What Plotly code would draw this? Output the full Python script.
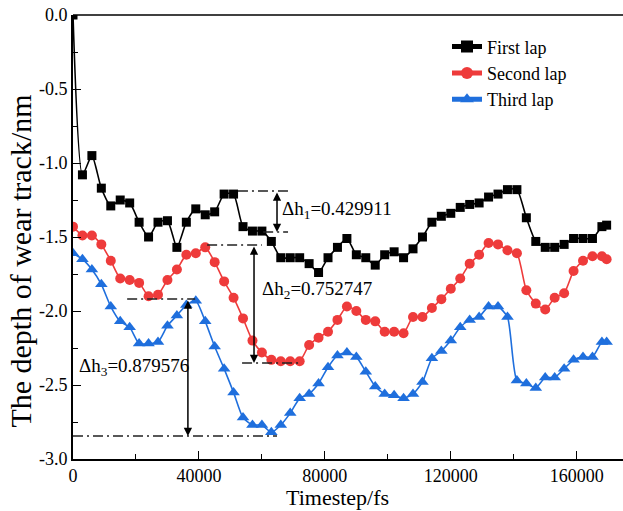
import plotly.graph_objects as go

# ---- data ----
timestep = [i * 3000 for i in range(57)] + [169500]

first_lap = [0.00, -1.08, -0.95, -1.17, -1.29, -1.25, -1.27, -1.40, -1.50, -1.40,
             -1.39, -1.57, -1.40, -1.31, -1.35, -1.33, -1.21, -1.21, -1.43, -1.46,
             -1.46, -1.53, -1.64, -1.64, -1.64, -1.68, -1.74, -1.64, -1.57, -1.51,
             -1.62, -1.64, -1.69, -1.62, -1.60, -1.64, -1.58, -1.50, -1.40, -1.36,
             -1.34, -1.30, -1.28, -1.27, -1.23, -1.21, -1.18, -1.18, -1.37, -1.53,
             -1.57, -1.57, -1.55, -1.51, -1.51, -1.51, -1.43, -1.42]

second_lap = [-1.43, -1.49, -1.49, -1.55, -1.66, -1.78, -1.79, -1.81, -1.90, -1.89,
              -1.79, -1.72, -1.62, -1.61, -1.57, -1.67, -1.80, -1.91, -2.05, -2.20,
              -2.28, -2.33, -2.34, -2.34, -2.34, -2.23, -2.18, -2.14, -2.06, -1.97,
              -2.00, -2.06, -2.07, -2.14, -2.14, -2.15, -2.04, -2.04, -1.98, -1.92,
              -1.85, -1.78, -1.68, -1.62, -1.54, -1.55, -1.59, -1.61, -1.86, -1.95,
              -1.99, -1.91, -1.88, -1.73, -1.66, -1.63, -1.63, -1.65]

third_lap = [-1.61, -1.65, -1.72, -1.82, -1.97, -2.07, -2.11, -2.22, -2.22, -2.21,
             -2.10, -2.03, -1.96, -1.93, -2.07, -2.24, -2.39, -2.55, -2.72, -2.77,
             -2.77, -2.82, -2.77, -2.69, -2.59, -2.56, -2.49, -2.38, -2.30, -2.28,
             -2.31, -2.41, -2.51, -2.56, -2.57, -2.59, -2.56, -2.48, -2.32, -2.27,
             -2.20, -2.11, -2.06, -2.04, -1.97, -1.97, -2.04, -2.47, -2.49, -2.52,
             -2.45, -2.45, -2.39, -2.33, -2.31, -2.31, -2.21, -2.21]

series_names = ["First lap", "Second lap", "Third lap"]

x_tickvals = [0, 40000, 80000, 120000, 160000]
x_ticktext = ["0", "40000", "80000", "120000", "160000"]
y_tickvals = [0.0, -0.5, -1.0, -1.5, -2.0, -2.5, -3.0]
y_ticktext = ["0.0", "-0.5", "-1.0", "-1.5", "-2.0", "-2.5", "-3.0"]

# Height-difference annotations
dh_labels = ["Δh<sub>1</sub>=0.429911", "Δh<sub>2</sub>=0.752747", "Δh<sub>3</sub>=0.879576"]
dh_top = [-1.189, -1.554, -1.919]
dh_bottom = [-1.466, -2.351, -2.845]
dh_arrow_x = [64800, 57500, 36500]
dh_top_x = [(52400, 68300), (42600, 60000), (17200, 38800)]
dh_bot_x = [(60400, 68300), (53700, 72700), (0, 64800)]
dh_text_pos = [(65800, -1.32), (59400, -1.86), (1300, -2.38)]

FONT = "Liberation Serif"

colors = ["#000000", "#EE3B3B", "#1F6FDD"]
symbols = ["square", "circle", "triangle-up"]
msizes = [9, 10, 11]

fig = go.Figure()
for name, ys, c, s, ms in zip(series_names, [first_lap, second_lap, third_lap],
                              colors, symbols, msizes):
    fig.add_trace(go.Scatter(
        x=timestep, y=ys, name=name, mode="lines+markers",
        line=dict(color=c, width=1.6, shape="spline", smoothing=0.6),
        marker=dict(symbol=s, size=ms, color=c, line=dict(width=0)),
    ))

shapes = []
annotations = []
dash = "10px,4px,2px,4px"
for i in range(3):
    shapes.append(dict(type="line", xref="x", yref="y",
                       x0=dh_top_x[i][0], x1=dh_top_x[i][1], y0=dh_top[i], y1=dh_top[i],
                       line=dict(color="#222222", width=1.5, dash=dash)))
    shapes.append(dict(type="line", xref="x", yref="y",
                       x0=dh_bot_x[i][0], x1=dh_bot_x[i][1], y0=dh_bottom[i], y1=dh_bottom[i],
                       line=dict(color="#222222", width=1.5, dash=dash)))
    annotations.append(dict(x=dh_arrow_x[i], y=dh_bottom[i], ax=dh_arrow_x[i], ay=dh_top[i],
                            xref="x", yref="y", axref="x", ayref="y", text="",
                            showarrow=True, arrowhead=2, arrowside="end+start",
                            arrowsize=1.1, arrowwidth=1.5, arrowcolor="#000000",
                            standoff=0, startstandoff=0))
    annotations.append(dict(x=dh_text_pos[i][0], y=dh_text_pos[i][1], xref="x", yref="y",
                            text=dh_labels[i], showarrow=False, xanchor="left",
                            yanchor="middle", font=dict(family=FONT, size=19, color="#000")))

# top border line
shapes.append(dict(type="line", xref="paper", yref="paper", x0=0, x1=1, y0=1, y1=1,
                   line=dict(color="#000000", width=1.6)))

# axis titles
annotations.append(dict(x=0.48, y=-0.086, xref="paper", yref="paper", text="Timestep/fs",
                        showarrow=False, xanchor="center", yanchor="middle",
                        font=dict(family=FONT, size=22, color="#000")))
annotations.append(dict(x=-0.096, y=0.445, xref="paper", yref="paper",
                        text="The depth of wear track/nm", textangle=-90,
                        showarrow=False, xanchor="center", yanchor="middle",
                        font=dict(family=FONT, size=30, color="#000")))

fig.update_layout(
    width=623, height=511,
    margin=dict(l=73, r=0, t=15, b=52),
    paper_bgcolor="white", plot_bgcolor="white",
    font=dict(family=FONT, size=18, color="#000"),
    showlegend=True,
    legend=dict(x=0.68, y=0.97, xanchor="left", yanchor="top",
                bgcolor="rgba(0,0,0,0)", font=dict(family=FONT, size=18, color="#000"),
                tracegroupgap=0, itemsizing="constant"),
    shapes=shapes, annotations=annotations,
    xaxis=dict(range=[0, 174700], showgrid=False, zeroline=False,
               showline=True, linecolor="#000", linewidth=1.6,
               ticks="inside", ticklen=8, tickwidth=1.4, tickcolor="#000",
               tickvals=x_tickvals, ticktext=x_ticktext,
               tickfont=dict(family=FONT, size=18, color="#000"),
               minor=dict(dtick=20000, tick0=0, ticks="inside", ticklen=5,
                          tickwidth=1.2, tickcolor="#000", showgrid=False)),
    yaxis=dict(range=[-3.0, 0.0], showgrid=False, zeroline=False,
               showline=True, linecolor="#000", linewidth=1.6,
               ticks="inside", ticklen=8, tickwidth=1.4, tickcolor="#000",
               tickvals=y_tickvals, ticktext=y_ticktext,
               tickfont=dict(family=FONT, size=18, color="#000"),
               minor=dict(dtick=0.25, tick0=0, ticks="inside", ticklen=5,
                          tickwidth=1.2, tickcolor="#000", showgrid=False)),
)

fig.write_html("out.html")
